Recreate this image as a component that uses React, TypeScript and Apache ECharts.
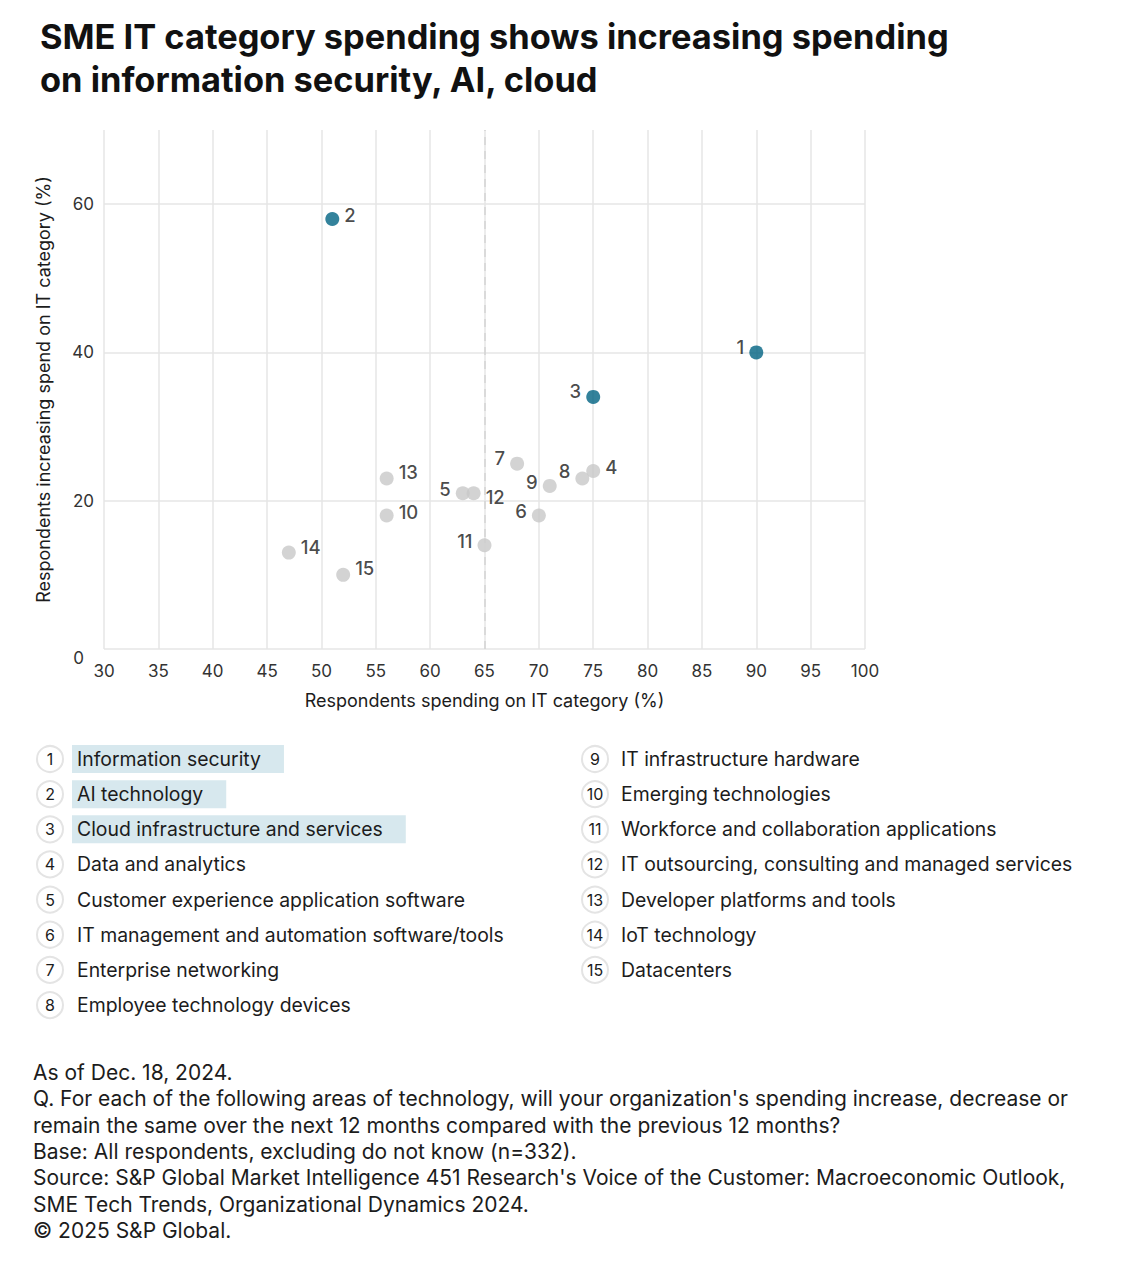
import React, { useEffect, useRef } from "react";
import * as echarts from "echarts";

const titleLines = [
  "SME IT category spending shows increasing spending",
  "on information security, AI, cloud",
];
const categoryIds = [1, 2, 3, 4, 5, 6, 7, 8, 9, 10, 11, 12, 13, 14, 15];
const categoryNames = [
  "Information security",
  "AI technology",
  "Cloud infrastructure and services",
  "Data and analytics",
  "Customer experience application software",
  "IT management and automation software/tools",
  "Enterprise networking",
  "Employee technology devices",
  "IT infrastructure hardware",
  "Emerging technologies",
  "Workforce and collaboration applications",
  "IT outsourcing, consulting and managed services",
  "Developer platforms and tools",
  "IoT technology",
  "Datacenters",
];
const spendingPct = [90, 51, 75, 75, 63, 70, 68, 74, 71, 56, 65, 64, 56, 47, 52];
const increasingPct = [40, 58, 34, 24, 21, 18, 25, 23, 22, 18, 14, 21, 23, 13, 10];
const highlightedIds = [1, 2, 3];
const xTicks = { min: 30, max: 100, interval: 5 };
const yTicks = { min: 0, max: 70, interval: 20 };
const referenceX = 65;
const xAxisName = "Respondents spending on IT category (%)";
const yAxisName = "Respondents increasing spend on IT category (%)";
const footnoteLines = [
  "As of Dec. 18, 2024.",
  "Q. For each of the following areas of technology, will your organization's spending increase, decrease or",
  "remain the same over the next 12 months compared with the previous 12 months?",
  "Base: All respondents, excluding do not know (n=332).",
  "Source: S&P Global Market Intelligence 451 Research's Voice of the Customer: Macroeconomic Outlook,",
  "SME Tech Trends, Organizational Dynamics 2024.",
  "© 2025 S&P Global.",
];

// label placement (style only)
const labelSide: Record<number, [string, number]> = {
  1: ["left", -5],
  2: ["right", -4],
  3: ["left", -6],
  4: ["right", -4],
  5: ["left", -4],
  6: ["left", -5],
  7: ["left", -6],
  8: ["left", -7],
  9: ["left", -4],
  10: ["right", -4],
  11: ["left", -4],
  12: ["right", 4],
  13: ["right", -6],
  14: ["right", -6],
  15: ["right", -7],
};

const FONT = "Inter, 'Liberation Sans', Arial, sans-serif";
const TEAL = "#006382";
const GREY = "#c8c8c8";
const TEXT = "#1c1c1c";

export default function App() {
  const ref = useRef<HTMLDivElement>(null);
  useEffect(() => {
    document.body.style.margin = "0";
    if (!ref.current) return;
    const chart = echarts.init(ref.current, null, { renderer: "svg" });

    const canvas = document.createElement("canvas");
    const ctx = canvas.getContext("2d")!;
    ctx.font = `19.4px ${FONT}`;

    const points = categoryIds.map((id, i) => {
      const hi = highlightedIds.includes(id);
      const [pos, dy] = labelSide[id];
      return {
        value: [spendingPct[i], increasingPct[i]],
        name: String(id),
        itemStyle: { color: hi ? TEAL : GREY },
        label: {
          position: pos,
          offset: [0, dy],
        },
        z: hi ? 3 : 2,
      };
    });

    const graphics: any[] = [];
    graphics.push({
      type: "text",
      left: 40,
      top: 15,
      style: {
        text: titleLines.join("\n"),
        font: `bold 34.4px ${FONT}`,
        fill: "#111",
        lineHeight: 43,
      },
    });

    const rowY0 = 759;
    const rowStep = 35.15;
    categoryIds.forEach((id, i) => {
      const col = i < 8 ? 0 : 1;
      const row = col === 0 ? i : i - 8;
      const cx = col === 0 ? 50 : 595;
      const tx = col === 0 ? 77 : 621;
      const cy = rowY0 + row * rowStep;
      if (highlightedIds.includes(id)) {
        const w = ctx.measureText(categoryNames[i]).width;
        graphics.push({
          type: "rect",
          shape: { x: tx - 5, y: cy - 14, width: w + 28, height: 28 },
          style: { fill: "#d7e8ee" },
          z: 1,
        });
      }
      graphics.push({
        type: "circle",
        shape: { cx, cy, r: 13 },
        style: { fill: "#fff", stroke: "#e4e4e4", lineWidth: 2 },
        z: 2,
      });
      graphics.push({
        type: "text",
        x: cx,
        y: cy,
        style: {
          text: String(id),
          font: `16px ${FONT}`,
          fill: TEXT,
          align: "center",
          verticalAlign: "middle",
        },
        z: 3,
      });
      graphics.push({
        type: "text",
        x: tx,
        y: cy,
        style: {
          text: categoryNames[i],
          font: `19.4px ${FONT}`,
          fill: TEXT,
          align: "left",
          verticalAlign: "middle",
        },
        z: 3,
      });
    });

    graphics.push({
      type: "text",
      x: 33,
      y: 1059,
      style: {
        text: footnoteLines.join("\n"),
        font: `21px ${FONT}`,
        fill: TEXT,
        lineHeight: 26.4,
        verticalAlign: "top",
      },
    });

    chart.setOption({
      animation: false,
      backgroundColor: "#fff",
      textStyle: { fontFamily: FONT },
      grid: { left: 104, right: 279, top: 130, bottom: 631, containLabel: false },
      xAxis: {
        type: "value",
        min: xTicks.min,
        max: xTicks.max,
        interval: xTicks.interval,
        name: xAxisName,
        nameLocation: "middle",
        nameGap: 42,
        nameTextStyle: { fontSize: 18, color: TEXT, fontFamily: FONT },
        axisLine: { show: false },
        axisTick: { show: false },
        axisLabel: { fontSize: 17, color: "#333", margin: 13, fontFamily: FONT },
        splitLine: { show: true, lineStyle: { color: "#e6e6e6", width: 1.5 } },
      },
      yAxis: {
        type: "value",
        min: yTicks.min,
        max: yTicks.max,
        interval: yTicks.interval,
        name: yAxisName,
        nameLocation: "middle",
        nameGap: 52,
        nameTextStyle: { fontSize: 18, color: TEXT, fontFamily: FONT },
        axisLine: { show: false },
        axisTick: { show: false },
        axisLabel: {
          fontSize: 17,
          color: "#333",
          margin: 10,
          fontFamily: FONT,
          showMaxLabel: false,
          formatter: (v: number) => (v === 0 ? "{z|0}" : String(v)),
          rich: { z: { fontSize: 17, color: "#333", padding: [18, 10, 0, 0], fontFamily: FONT } },
        },
        splitLine: {
          show: true,
          showMaxLine: false,
          lineStyle: { color: "#e6e6e6", width: 1.5 },
        },
      },
      series: [
        {
          type: "scatter",
          symbolSize: 14,
          data: points,
          label: {
            show: true,
            formatter: "{b}",
            fontSize: 18.5,
            fontWeight: 500,
            color: "#1a1a1a",
            distance: 5,
            fontFamily: FONT,
          },
          markLine: {
            silent: true,
            symbol: "none",
            label: { show: false },
            lineStyle: { type: [8, 6], color: "#d4d4d4", width: 1.5 },
            data: [{ xAxis: referenceX }],
          },
        },
      ],
      graphic: graphics,
    });
    return () => chart.dispose();
  }, []);
  return <div ref={ref} style={{ width: 1144, height: 1280 }} />;
}
